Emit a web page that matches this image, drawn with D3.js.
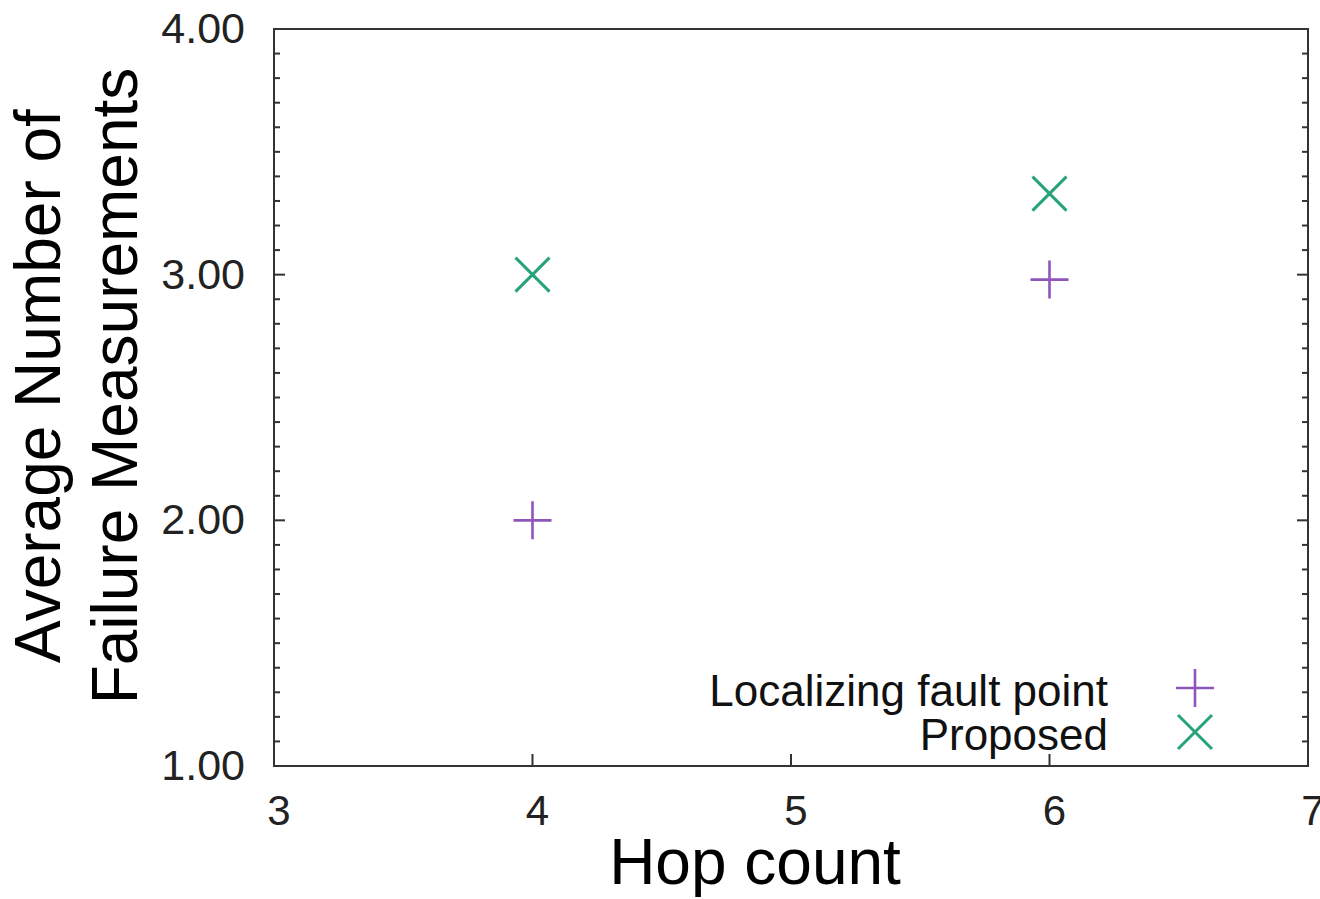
<!DOCTYPE html>
<html>
<head>
<meta charset="utf-8">
<script src="https://cdn.jsdelivr.net/npm/d3@7/dist/d3.min.js"></script>
<style>
  html, body { margin: 0; padding: 0; background: #fff; }
  svg { display: block; font-family: "Liberation Sans", Arial, sans-serif; }
</style>
</head>
<body>
<svg id="chart" width="1320" height="899"></svg>
<script>
// Data
const hopCounts = [4, 6];
const localizingValues = [2.00, 2.98];
const proposedValues = [3.00, 3.33];
const seriesNames = ["Localizing fault point", "Proposed"];
const xTicks = [3, 4, 5, 6, 7];
const yTicks = [1, 2, 3, 4];

const margin = { left: 274, right: 12, top: 29, bottom: 133 };
const W = 1320, H = 899;
const svg = d3.select("#chart");

const x = d3.scaleLinear().domain([3, 7]).range([margin.left, W - margin.right]);
const y = d3.scaleLinear().domain([1, 4]).range([H - margin.bottom, margin.top]);

const axisColor = "#333";
const purple = "#8e55bb";
const green = "#27a37a";

// minor y ticks (every 0.1), both sides
const minorY = d3.range(1, 4.0001, 0.1).filter(v => Math.abs(v - Math.round(v)) > 1e-6);
const gt = svg.append("g").attr("stroke", axisColor).attr("stroke-width", 2);
minorY.forEach(v => {
  gt.append("line").attr("x1", x(3)).attr("x2", x(3) + 6).attr("y1", y(v)).attr("y2", y(v));
  gt.append("line").attr("x1", x(7)).attr("x2", x(7) - 6).attr("y1", y(v)).attr("y2", y(v));
});
yTicks.forEach(v => {
  gt.append("line").attr("x1", x(3)).attr("x2", x(3) + 11).attr("y1", y(v)).attr("y2", y(v));
  gt.append("line").attr("x1", x(7)).attr("x2", x(7) - 11).attr("y1", y(v)).attr("y2", y(v));
});
xTicks.forEach(v => {
  gt.append("line").attr("x1", x(v)).attr("x2", x(v)).attr("y1", y(1)).attr("y2", y(1) - 12);
});

// frame
svg.append("rect")
  .attr("x", x(3)).attr("y", y(4))
  .attr("width", x(7) - x(3)).attr("height", y(1) - y(4))
  .attr("fill", "none").attr("stroke", axisColor).attr("stroke-width", 2);

// tick labels
svg.append("g").selectAll("text").data(yTicks).join("text")
  .attr("x", x(3) - 29).attr("y", d => y(d) + 14)
  .attr("text-anchor", "end").attr("font-size", 43).attr("fill", "#222")
  .text(d => d.toFixed(2));

svg.append("g").selectAll("text").data(xTicks).join("text")
  .attr("x", d => x(d) + 5).attr("y", y(1) + 59)
  .attr("text-anchor", "middle").attr("font-size", 42).attr("fill", "#222")
  .text(d => d);

// axis titles
svg.append("text")
  .attr("x", 755).attr("y", 884)
  .attr("text-anchor", "middle").attr("font-size", 64).attr("fill", "#000")
  .text("Hop count");

const yt = svg.append("text")
  .attr("transform", "translate(60,386) rotate(-90)")
  .attr("text-anchor", "middle").attr("font-size", 64).attr("fill", "#000");
yt.append("tspan").attr("x", 0).attr("y", 0).text("Average Number of");
yt.append("tspan").attr("x", 0).attr("y", 77).text("Failure Measurements");

// markers
function plus(g, cx, cy, r, color) {
  g.append("path")
    .attr("d", `M${cx - r},${cy}H${cx + r}M${cx},${cy - r}V${cy + r}`)
    .attr("stroke", color).attr("stroke-width", 2.6).attr("fill", "none");
}
function cross(g, cx, cy, r, color) {
  g.append("path")
    .attr("d", `M${cx - r},${cy - r}L${cx + r},${cy + r}M${cx - r},${cy + r}L${cx + r},${cy - r}`)
    .attr("stroke", color).attr("stroke-width", 3).attr("fill", "none");
}

const gm = svg.append("g");
hopCounts.forEach((h, i) => {
  plus(gm, x(h), y(localizingValues[i]), 19, purple);
  cross(gm, x(h), y(proposedValues[i]), 17, green);
});

// legend
const legendRight = 1108;
const legendBase = [706, 750];
seriesNames.forEach((name, i) => {
  svg.append("text")
    .attr("x", legendRight).attr("y", legendBase[i])
    .attr("text-anchor", "end").attr("font-size", 44).attr("fill", "#111")
    .text(name);
});
plus(gm, 1195, legendBase[0] - 18, 19, purple);
cross(gm, 1195, legendBase[1] - 18, 17, green);
</script>
</body>
</html>
